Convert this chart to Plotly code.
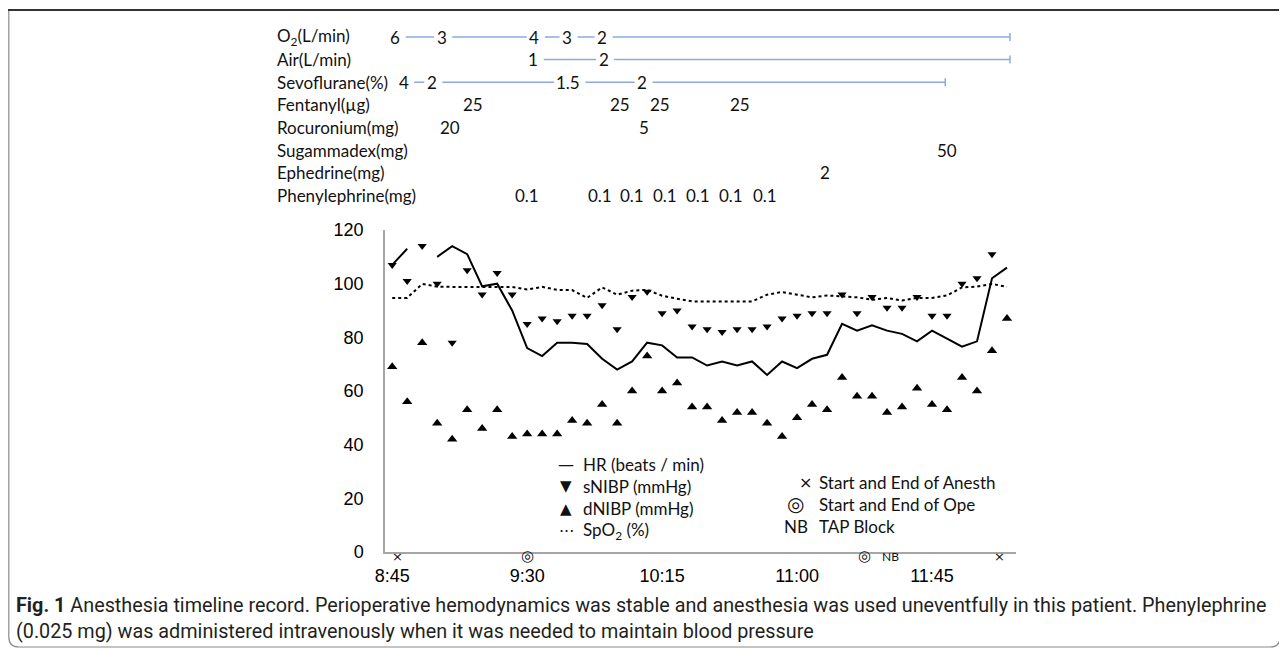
import plotly.graph_objects as go

# ---------------- data ----------------
start_clock = "8:45"
step_min = 5
hr = [107, 113, None, 110, 114, 111, 99, 100, 90, 76, 73, 78, 78, 77.5, 72, 68, 71, 78, 77, 72.5,
      72.5, 69.5, 71, 69.5, 71, 66, 71, 68.5, 72, 73.5, 85, 82.5, 84.5, 82.5, 81.3, 78.5, 82.5,
      79.5, 76.5, 78.5, 102, 106]
snibp = [107, 101, 114, 100, 78, 105, 96, 104, 96, 85, 87, 86, 88, 88, 92, 83, 95, 97, 89, 90,
         84, 83, 82, 83, 83, 84, 87, 88, 89, 89, 96, 89, 95, 91, 91, 95, 88, 88, 100, 102, 111, 121]
dnibp = [69, 56, 78, 48, 42, 53, 46, 53, 43, 44, 44, 44, 49, 48, 55, 48, 60, 73, 60, 63, 54, 54,
         49, 52, 52, 48, 43, 50, 55, 53, 65, 58, 58, 52, 54, 61, 55, 53, 65, 60, 75, 87]
spo2 = [94.7, 94.7, 99.9, 98.9, 98.8, 98.8, 98.8, 98.8, 98.8, 97.8, 98.8, 97.7, 97.6, 94.7, 98.6,
        95.9, 97.4, 97.7, 95.5, 94.4, 93.4, 93.4, 93.4, 93.4, 93.4, 95.9, 96.9, 95.9, 94.9, 95.6,
        95.3, 94.9, 94.0, 94.7, 93.7, 94.7, 94.7, 95.6, 98.6, 98.9, 99.9, 98.8]
tick_labels = ["8:45", "9:30", "10:15", "11:00", "11:45"]
y_ticks = [0, 20, 40, 60, 80, 100, 120]

# drug / gas table: (minutes after 8:45, text)
row_names = ["O<sub>2</sub>(L/min)", "Air(L/min)", "Sevoflurane(%)", "Fentanyl(µg)",
             "Rocuronium(mg)", "Sugammadex(mg)", "Ephedrine(mg)", "Phenylephrine(mg)"]
o2_t, o2_v = [1, 16.5, 47.4, 58.3, 70], ["6", "3", "4", "3", "2"]
air_t, air_v = [47, 70.5], ["1", "2"]
sevo_t, sevo_v = [3.8, 13.2, 58.7, 83.3], ["4", "2", "1.5", "2"]
gas_end = [206, 206, 184.4]
fent_t, fent_v = [27, 75.8, 89.2, 116], ["25", "25", "25", "25"]
roc_t, roc_v = [19.3, 83.9], ["20", "5"]
sug_t, sug_v = [185], ["50"]
eph_t, eph_v = [144.4], ["2"]
phe_t, phe_v = [45, 69.4, 80, 91, 102, 113, 124.4], ["0.1"] * 7

# events below the time axis: (minutes after 8:45, symbol)
events = [(1.6, "×"), (45.2, "◎"), (157.5, "◎"), (202.5, "×")]
nb_event = (166, "NB")

caption1 = ("<b>Fig. 1</b> Anesthesia timeline record. Perioperative hemodynamics was stable and "
            "anesthesia was used uneventfully in this patient. Phenylephrine")
caption2 = "(0.025 mg) was administered intravenously when it was needed to maintain blood pressure"

# ---------------- derived x values ----------------
def clock_to_min(s):
    h, m = s.split(":")
    return int(h) * 60 + int(m)

t0 = clock_to_min(start_clock)
x = [i * step_min for i in range(len(hr))]
tick_vals = [clock_to_min(s) - t0 for s in tick_labels]

# ---------------- layout geometry (reference pixel frame) ----------------
FW, FH = 1287, 650
OFF = 8                      # page body margin
L, T = 385, 230              # plot-area corner in reference pixels
W, H = 631, 322
ML, MT = L - OFF, T - OFF
MR, MB = FW - ML - W, FH - MT - H
XR = [-2.4, 208]

def px(p):
    return (p - L) / W

def py(p):
    return (T + H - p) / H

fig = go.Figure()
fig.add_trace(go.Scatter(x=x, y=hr, mode="lines", line=dict(color="black", width=2),
                         connectgaps=False, cliponaxis=False, hoverinfo="skip"))
fig.add_trace(go.Scatter(x=x, y=spo2, mode="lines", line=dict(color="black", width=2, dash="dot"),
                         cliponaxis=False, hoverinfo="skip"))
fig.add_trace(go.Scatter(x=x, y=snibp, mode="markers",
                         marker=dict(symbol="triangle-down", size=8, color="black"),
                         cliponaxis=False, hoverinfo="skip"))
fig.add_trace(go.Scatter(x=x, y=dnibp, mode="markers",
                         marker=dict(symbol="triangle-up", size=9, color="black"),
                         cliponaxis=False, hoverinfo="skip"))

annotations = []
shapes = []
TBL_FONT = dict(family="Lato, sans-serif", size=17, color="#111")
row_y0, row_dy = 37, 22.6
row_label_x = 274.7

for r, name in enumerate(row_names):
    annotations.append(dict(xref="paper", yref="paper", x=px(row_label_x), y=py(row_y0 + r * row_dy),
                            text=name, showarrow=False, xanchor="left", yanchor="middle",
                            font=TBL_FONT))

rows = [(o2_t, o2_v), (air_t, air_v), (sevo_t, sevo_v), (fent_t, fent_v), (roc_t, roc_v),
        (sug_t, sug_v), (eph_t, eph_v), (phe_t, phe_v)]
for r, (ts, vs) in enumerate(rows):
    for t, v in zip(ts, vs):
        annotations.append(dict(xref="x", yref="paper", x=t, y=py(row_y0 + r * row_dy), text=v,
                                showarrow=False, xanchor="center", yanchor="middle", font=TBL_FONT))

# connecting lines for gases
BLUE = "#8eaadb"
px_per_min = W / (XR[1] - XR[0])

def half_width(s):
    return sum(4.5 if c == "." else 9.0 for c in s) / 2

for r, (ts, vs) in enumerate(rows[:3]):
    yy = py(row_y0 + r * row_dy)
    pts = list(zip(ts, vs))
    for k in range(len(pts)):
        t, v = pts[k]
        x_a = t + (half_width(v) + 6) / px_per_min
        if k + 1 < len(pts):
            t2, v2 = pts[k + 1]
            x_b = t2 - (half_width(v2) + 3) / px_per_min
        else:
            x_b = gas_end[r]
        shapes.append(dict(type="line", xref="x", yref="paper", x0=x_a, x1=x_b, y0=yy, y1=yy,
                           line=dict(color=BLUE, width=1.5)))
    shapes.append(dict(type="line", xref="x", yref="paper", x0=gas_end[r], x1=gas_end[r],
                       y0=yy - 4 / H, y1=yy + 4 / H, line=dict(color=BLUE, width=1.5)))

# legend (text)
LEG_FONT = dict(family="Lato, sans-serif", size=17, color="#111")
left_leg = [("—", "HR (beats / min)"), ("▼", "sNIBP (mmHg)"), ("▲", "dNIBP (mmHg)"),
            ("···", "SpO<sub>2</sub> (%)")]
for k, (sym, txt) in enumerate(left_leg):
    yy = py(464 + k * 22.4)
    annotations.append(dict(xref="paper", yref="paper", x=px(566), y=yy, text=sym, showarrow=False,
                            xanchor="center", yanchor="middle",
                            font=dict(family="DejaVu Sans", size=15 if sym in "▼▲" else 16,
                                      color="#111")))
    annotations.append(dict(xref="paper", yref="paper", x=px(581), y=yy, text=txt, showarrow=False,
                            xanchor="left", yanchor="middle", font=LEG_FONT))
right_leg = [("×", "Start and End of Anesth", 805, 16), ("◎", "Start and End of Ope", 795, 20),
             ("NB", "TAP Block", 796, 17)]
for k, (sym, txt, sx, fs) in enumerate(right_leg):
    yy = py(482 + k * 22)
    annotations.append(dict(xref="paper", yref="paper", x=px(sx), y=yy, text=sym, showarrow=False,
                            xanchor="center", yanchor="middle",
                            font=dict(family="DejaVu Sans" if sym != "NB" else "Lato",
                                      size=fs, color="#111")))
    annotations.append(dict(xref="paper", yref="paper", x=px(817), y=yy, text=txt, showarrow=False,
                            xanchor="left", yanchor="middle", font=LEG_FONT))

# events under the axis
for t, sym in events:
    annotations.append(dict(xref="x", yref="paper", x=t, y=py(556), text=sym, showarrow=False,
                            xanchor="center", yanchor="middle",
                            font=dict(family="DejaVu Sans", size=13 if sym == "×" else 15,
                                      color="#111")))
annotations.append(dict(xref="x", yref="paper", x=nb_event[0], y=py(556), text=nb_event[1],
                        showarrow=False, xanchor="center", yanchor="middle",
                        font=dict(family="Lato", size=12, color="#111")))

# caption
CAP_FONT = dict(family="Roboto, sans-serif", size=19.8, color="#231f20")
annotations.append(dict(xref="paper", yref="paper", x=px(14), y=py(605), text=caption1,
                        showarrow=False, xanchor="left", yanchor="middle", font=CAP_FONT))
annotations.append(dict(xref="paper", yref="paper", x=px(14), y=py(631), text=caption2,
                        showarrow=False, xanchor="left", yanchor="middle", font=CAP_FONT))

# frame
bx0, bx1, by0, by1, rad = 8.8, 1280, 10, 647, 10
path = (f"M {px(bx0)},{py(by0)} L {px(bx0)},{py(by1 - rad)} "
        f"Q {px(bx0)},{py(by1)} {px(bx0 + rad)},{py(by1)} "
        f"L {px(bx1 - rad)},{py(by1)} Q {px(bx1)},{py(by1)} {px(bx1)},{py(by1 - rad)} "
        f"L {px(bx1)},{py(by0)}")
shapes.append(dict(type="path", xref="paper", yref="paper", path=path,
                   line=dict(color="#8a8a8a", width=1.2)))
shapes.append(dict(type="line", xref="paper", yref="paper", x0=px(0), x1=px(FW + OFF),
                   y0=py(by0), y1=py(by0), line=dict(color="#333", width=2)))

fig.update_layout(
    width=FW, height=FH, autosize=False,
    margin=dict(l=ML, r=MR, t=MT, b=MB, pad=0),
    paper_bgcolor="white", plot_bgcolor="white",
    showlegend=False,
    annotations=annotations, shapes=shapes,
    xaxis=dict(range=XR, tickvals=tick_vals, ticktext=tick_labels, showline=True,
               linecolor="#a6a6a6", linewidth=1.5, ticks="outside", ticklen=7,
               tickcolor="rgba(0,0,0,0)", showgrid=False, zeroline=False,
               tickfont=dict(family="Liberation Sans, Arial", size=18, color="black")),
    yaxis=dict(range=[0, 120], tickvals=y_ticks, showline=True, linecolor="#a6a6a6",
               linewidth=1.5, ticks="outside", ticklen=16, tickcolor="rgba(0,0,0,0)",
               showgrid=False, zeroline=False,
               tickfont=dict(family="Liberation Sans, Arial", size=18, color="black")),
)

fig.write_html("out.html")
